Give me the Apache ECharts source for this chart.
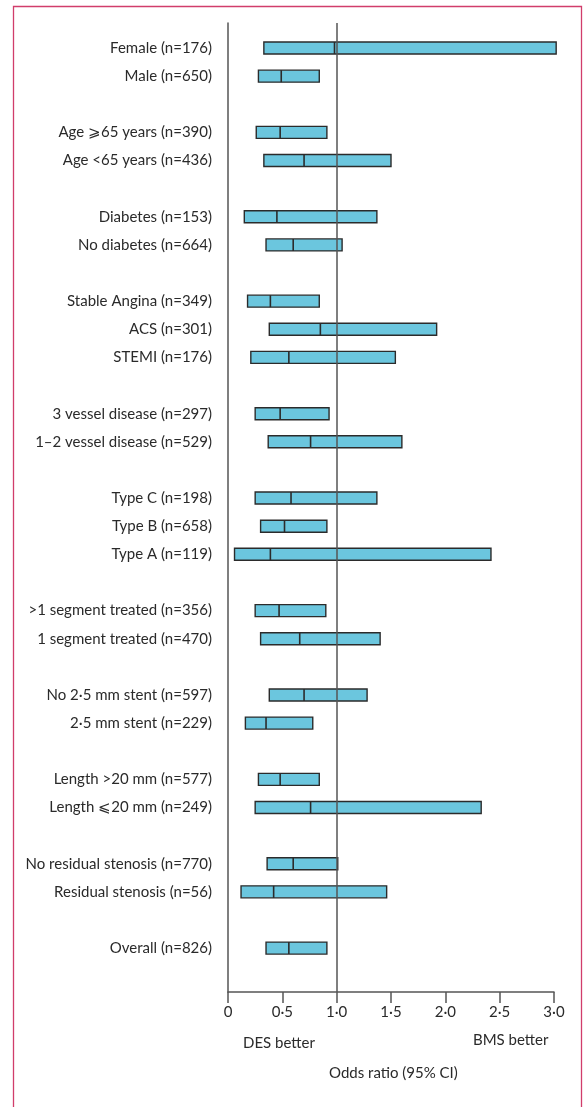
<!DOCTYPE html>
<html>
<head>
<meta charset="utf-8">
<script src="https://cdn.jsdelivr.net/npm/echarts@6/dist/echarts.min.js"></script>
<style>
  html, body { margin: 0; padding: 0; background: #fff; }
  #chart { width: 587px; height: 1107px; }
</style>
</head>
<body>
<div id="chart"></div>
<script>
// Subgroup labels and their row positions (blank rows separate the groups)
const subgroups = [
  'Female (n=176)', 'Male (n=650)',
  'Age ⩾65 years (n=390)', 'Age <65 years (n=436)',
  'Diabetes (n=153)', 'No diabetes (n=664)',
  'Stable Angina (n=349)', 'ACS (n=301)', 'STEMI (n=176)',
  '3 vessel disease (n=297)', '1–2 vessel disease (n=529)',
  'Type C (n=198)', 'Type B (n=658)', 'Type A (n=119)',
  '>1 segment treated (n=356)', '1 segment treated (n=470)',
  'No 2·5 mm stent (n=597)', '2·5 mm stent (n=229)',
  'Length >20 mm (n=577)', 'Length ⩽20 mm (n=249)',
  'No residual stenosis (n=770)', 'Residual stenosis (n=56)',
  'Overall (n=826)'
];
const rowIndex = [0, 1, 3, 4, 6, 7, 9, 10, 11, 13, 14, 16, 17, 18, 20, 21, 23, 24, 26, 27, 29, 30, 32];

// Odds ratios with 95% confidence limits
const lowerCI  = [0.33, 0.28, 0.26, 0.33, 0.15, 0.35, 0.18, 0.38, 0.21, 0.25, 0.37, 0.25, 0.30, 0.06, 0.25, 0.30, 0.38, 0.16, 0.28, 0.25, 0.36, 0.12, 0.35];
const oddsRatio = [0.98, 0.49, 0.48, 0.70, 0.45, 0.60, 0.39, 0.85, 0.56, 0.48, 0.76, 0.58, 0.52, 0.39, 0.47, 0.66, 0.70, 0.35, 0.48, 0.76, 0.60, 0.42, 0.56];
const upperCI  = [3.02, 0.84, 0.91, 1.50, 1.37, 1.05, 0.84, 1.92, 1.54, 0.93, 1.60, 1.37, 0.91, 2.42, 0.90, 1.40, 1.28, 0.78, 0.84, 2.33, 1.01, 1.46, 0.91];

// x axis ticks
const tickMin = 0, tickMax = 3, tickStep = 0.5;

const labelByRow = {};
rowIndex.forEach((r, i) => { labelByRow[r] = subgroups[i]; });

const seriesData = rowIndex.map((r, i) => [lowerCI[i], oddsRatio[i], upperCI[i], r]);

const textColor = '#2a2a2a';
const axisColor = '#555';
const fontFamily = 'Lato, "Open Sans", sans-serif';

const chart = echarts.init(document.getElementById('chart'), null, { renderer: 'canvas' });

chart.setOption({
  animation: false,
  backgroundColor: '#fff',
  grid: {
    left: 228, right: 33, top: 23, bottom: 115,
    containLabel: false,
    outerBoundsMode: 'none'
  },
  xAxis: {
    type: 'value',
    min: tickMin, max: tickMax, interval: tickStep,
    axisLine: { show: true, onZero: false, lineStyle: { color: axisColor, width: 1.5 } },
    axisTick: { show: true, length: 11, lineStyle: { color: axisColor, width: 1.5 } },
    splitLine: { show: false },
    axisLabel: {
      color: textColor, fontSize: 15, fontFamily, margin: 13,
      formatter: v => v === 0 ? '0' : v.toFixed(1).replace('.', '·')
    }
  },
  yAxis: {
    type: 'value',
    inverse: true,
    min: -0.889, max: 33.56,
    axisLine: { show: true, onZero: false, lineStyle: { color: axisColor, width: 1.5 } },
    axisTick: { show: false },
    splitLine: { show: false },
    axisLabel: {
      customValues: rowIndex,
      color: textColor, fontSize: 15, fontFamily, margin: 16,
      formatter: v => labelByRow[Math.round(v)] || ''
    }
  },
  graphic: [
    {
      type: 'polyline',
      shape: { points: [[13.5, 1107], [13.5, 6.5], [581.5, 6.5], [581.5, 1107]] },
      style: { stroke: '#d13d6b', lineWidth: 1.3, fill: null },
      silent: true
    },
    {
      type: 'text', left: 243, top: 1036,
      style: { text: 'DES better', fill: textColor, font: '15px ' + fontFamily }
    },
    {
      type: 'text', left: 473, top: 1033,
      style: { text: 'BMS better', fill: textColor, font: '15px ' + fontFamily }
    },
    {
      type: 'text', left: 329, top: 1066,
      style: { text: 'Odds ratio (95% CI)', fill: textColor, font: '15px ' + fontFamily }
    }
  ],
  series: [{
    type: 'custom',
    data: seriesData,
    encode: { x: [0, 1, 2], y: 3 },
    renderItem: (params, api) => {
      const row = api.value(3);
      const pLo = api.coord([api.value(0), row]);
      const pEst = api.coord([api.value(1), row]);
      const pHi = api.coord([api.value(2), row]);
      const h = 12;
      return {
        type: 'group',
        children: [
          {
            type: 'rect',
            shape: { x: pLo[0], y: pLo[1] - h / 2, width: pHi[0] - pLo[0], height: h },
            style: { fill: '#6bc6de', stroke: '#2b2b2b', lineWidth: 1.4 }
          },
          {
            type: 'line',
            shape: { x1: pEst[0], y1: pEst[1] - h / 2, x2: pEst[0], y2: pEst[1] + h / 2 },
            style: { stroke: '#2b2b2b', lineWidth: 1.6 }
          }
        ]
      };
    },
    markLine: {
      silent: true,
      symbol: 'none',
      label: { show: false },
      lineStyle: { color: axisColor, width: 1.5, type: 'solid' },
      data: [{ xAxis: 1 }]
    },
    z: 3
  }]
});
</script>
</body>
</html>
